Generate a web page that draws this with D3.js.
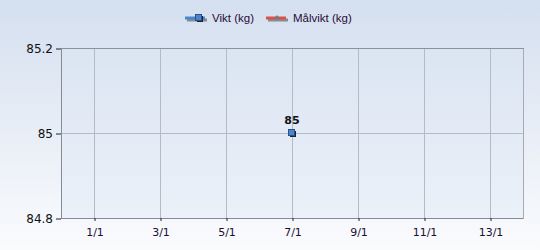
<!DOCTYPE html>
<html>
<head>
<meta charset="utf-8">
<script src="https://cdn.jsdelivr.net/npm/d3@7"></script>
<style>
  body { margin: 0; }
  svg { display: block; }
</style>
</head>
<body>
<div id="chart"></div>
<script>
// data
const weightDates = ["2025-01-07"]
const weightValues = [85]
const targetDates = []
const targetValues = []
const xTickDates = ["2025-01-01", "2025-01-03", "2025-01-05", "2025-01-07", "2025-01-09", "2025-01-11", "2025-01-13"]
const yTicks = [84.8, 85, 85.2]
const legendLabels = ["Vikt (kg)", "Målvikt (kg)"]
const legendColors = ["#4a86d0", "#d9534a"]

const width = 540, height = 250
const margin = {top: 48, right: 17, bottom: 32, left: 61}
const parse = d3.timeParse("%Y-%m-%d")

const svg = d3.select("#chart").append("svg")
  .attr("width", width)
  .attr("height", height)
  .style("font-family", "'DejaVu Sans', sans-serif")

const defs = svg.append("defs")
const bg = defs.append("linearGradient").attr("id", "bg")
  .attr("x1", 0).attr("y1", 0).attr("x2", 0).attr("y2", 1)
bg.append("stop").attr("offset", "0%").attr("stop-color", "#d4dfef")
bg.append("stop").attr("offset", "100%").attr("stop-color", "#fafbfd")

svg.append("rect").attr("width", width).attr("height", height).attr("fill", "url(#bg)")

const x = d3.scaleTime()
  .domain([parse("2024-12-31"), parse("2025-01-14")])
  .range([margin.left, width - margin.right])
const y = d3.scaleLinear()
  .domain([84.8, 85.2])
  .range([height - margin.bottom, margin.top])

// plot area tint
svg.append("rect")
  .attr("x", margin.left).attr("y", margin.top)
  .attr("width", width - margin.left - margin.right)
  .attr("height", height - margin.top - margin.bottom)
  .attr("fill", "#dbe5f3").attr("opacity", 0.35)

// grid
const grid = svg.append("g")
grid.selectAll("line.v")
  .data(xTickDates.map(parse))
  .join("line")
    .attr("class", "v")
    .attr("x1", d => x(d) + 0.5).attr("x2", d => x(d) + 0.5)
    .attr("y1", margin.top).attr("y2", height - margin.bottom)
    .attr("stroke", "#b4bac6")
grid.selectAll("line.h")
  .data(yTicks.slice(1, -1))
  .join("line")
    .attr("class", "h")
    .attr("x1", margin.left).attr("x2", width - margin.right)
    .attr("y1", d => Math.round(y(d)) + 0.5).attr("y2", d => Math.round(y(d)) + 0.5)
    .attr("stroke", "#b4bac6")

// frame
svg.append("rect")
  .attr("x", margin.left + 0.5).attr("y", margin.top + 0.5)
  .attr("width", width - margin.left - margin.right)
  .attr("height", height - margin.top - margin.bottom)
  .attr("fill", "none").attr("stroke", "#a6abb4")
svg.append("line")
  .attr("x1", margin.left + 0.5).attr("x2", margin.left + 0.5)
  .attr("y1", margin.top).attr("y2", height - margin.bottom)
  .attr("stroke", "#858a94")
svg.append("line")
  .attr("x1", margin.left).attr("x2", width - margin.right)
  .attr("y1", height - margin.bottom + 0.5).attr("y2", height - margin.bottom + 0.5)
  .attr("stroke", "#858a94")
svg.append("line")
  .attr("x1", margin.left).attr("x2", width - margin.right + 1)
  .attr("y1", margin.top + 0.5).attr("y2", margin.top + 0.5)
  .attr("stroke", "#8c929c")

// axes
const axisY = svg.append("g")
  .attr("transform", `translate(${margin.left},0.5)`)
  .call(d3.axisLeft(y).tickValues(yTicks).tickSize(5).tickPadding(3).tickFormat(d3.format("~g")))
axisY.select(".domain").remove()
axisY.selectAll("text").attr("font-size", 12).attr("fill", "#111")
  .attr("font-family", "'DejaVu Sans', sans-serif")
axisY.selectAll("line").attr("stroke", "#222")

const axisX = svg.append("g")
  .attr("transform", `translate(0.5,${height - margin.bottom})`)
  .call(d3.axisBottom(x).tickValues(xTickDates.map(parse)).tickSize(3).tickPadding(7)
    .tickFormat(d => `${d.getDate()}/${d.getMonth() + 1}`))
axisX.select(".domain").remove()
axisX.selectAll("text").attr("font-size", 11).attr("fill", "#1a1030")
  .attr("font-family", "'DejaVu Sans', sans-serif")
axisX.selectAll("line").attr("stroke", "#222")

// series
const weight = weightDates.map((d, i) => ({date: parse(d), value: weightValues[i]}))
const target = targetDates.map((d, i) => ({date: parse(d), value: targetValues[i]}))
const line = d3.line().x(d => x(d.date)).y(d => y(d.value))

svg.append("path").datum(target).attr("d", line)
  .attr("fill", "none").attr("stroke", legendColors[1]).attr("stroke-width", 3)
svg.append("path").datum(weight).attr("d", line)
  .attr("fill", "none").attr("stroke", legendColors[0]).attr("stroke-width", 3)

const pts = svg.append("g")
pts.selectAll("rect.shadow")
  .data(weight)
  .join("rect")
    .attr("class", "shadow")
    .attr("x", d => x(d.date) - 2).attr("y", d => y(d.value) - 2)
    .attr("width", 6).attr("height", 6).attr("fill", "#222")
pts.selectAll("rect.pt")
  .data(weight)
  .join("rect")
    .attr("class", "pt")
    .attr("x", d => x(d.date) - 3.5).attr("y", d => y(d.value) - 3.5)
    .attr("width", 6).attr("height", 6)
    .attr("fill", "#4a86d0").attr("stroke", "#2a4f8a").attr("stroke-width", 1)
pts.selectAll("text")
  .data(weight)
  .join("text")
    .attr("x", d => x(d.date)).attr("y", d => y(d.value) - 9)
    .attr("text-anchor", "middle")
    .attr("font-size", 11).attr("font-weight", "bold").attr("fill", "#111")
    .text(d => d3.format("~g")(d.value))

// legend
const legendX = [185, 266]
const legend = svg.append("g")
legendLabels.forEach((label, i) => {
  const g = legend.append("g").attr("transform", `translate(${legendX[i]},18)`)
  g.append("line").attr("x1", 2).attr("x2", 22).attr("y1", 2).attr("y2", 2)
    .attr("stroke", "#555").attr("stroke-width", 3).attr("opacity", 0.6)
  g.append("line").attr("x1", 0).attr("x2", 20).attr("y1", 0).attr("y2", 0)
    .attr("stroke", legendColors[i]).attr("stroke-width", 3)
  if (i === 0) {
    g.append("rect").attr("x", 12).attr("y", -2).attr("width", 6).attr("height", 6).attr("fill", "#222")
    g.append("rect").attr("x", 10.5).attr("y", -3.5).attr("width", 6).attr("height", 6)
      .attr("fill", "#4a86d0").attr("stroke", "#2a4f8a")
  } else {
    g.append("path").attr("d", "M8,1 L11,-3 L14,1 Z").attr("fill", "#777")
  }
  g.append("text").attr("x", 27).attr("y", 4)
    .attr("font-size", 11.5).attr("fill", "#2a0a3a")
    .attr("font-family", "'Liberation Sans', Arial, sans-serif")
    .text(label)
})
</script>
</body>
</html>
